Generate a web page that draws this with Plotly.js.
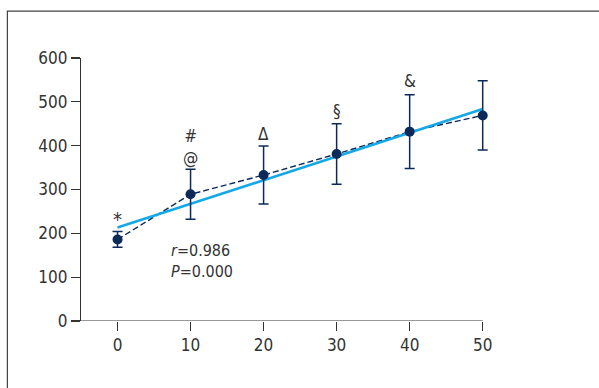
<!DOCTYPE html>
<html><head><meta charset="utf-8">
<script src="https://cdn.plot.ly/plotly-3.0.1.min.js"></script>
<style>body{margin:0;background:#fff}#plot{width:599px;height:388px}</style>
</head><body><div id="plot"></div>
<script>
const xVals = [0, 10, 20, 30, 40, 50];
const meanVals = [186, 289, 333, 381, 432, 469];
const errVals = [18, 57, 66, 69, 84, 79];
const markLabels = ["*", "#<br>@", "Δ", "§", "&", ""];
const markLabelY = [232, 397, 427, 480, 548, 0];
const statsText = "<i>r</i>=0.986<br><i>P</i>=0.000";

// linear regression of the means
const n = xVals.length;
const mx = xVals.reduce((a,b)=>a+b,0)/n;
const my = meanVals.reduce((a,b)=>a+b,0)/n;
let sxy=0, sxx=0;
for (let i=0;i<n;i++){ sxy+=(xVals[i]-mx)*(meanVals[i]-my); sxx+=(xVals[i]-mx)**2; }
const slope = sxy/sxx, icpt = my - slope*mx;
const fitX = [xVals[0], xVals[n-1]];
const fitY = fitX.map(v=>icpt+slope*v);

const navy = '#0b2a5a';
const FONT = '"DejaVu Sans Condensed", "Liberation Sans Narrow", sans-serif';

const traces = [
  {x: xVals, y: meanVals, mode:'lines', line:{color:navy, width:1.4, dash:'6px,3px'}, hoverinfo:'skip', cliponaxis:false},
  {x: fitX, y: fitY, mode:'lines', line:{color:'#14a8e6', width:2.6}, cliponaxis:false},
  {x: xVals, y: meanVals, mode:'markers', marker:{color:navy, size:10},
   error_y:{type:'data', array: errVals, visible:true, color:navy, thickness:1.5, width:5}, cliponaxis:false}
];

const annotations = [];
for (let i=0;i<n;i++){
  if (!markLabels[i]) continue;
  annotations.push({x:xVals[i], y:markLabelY[i], xref:'x', yref:'y', text:markLabels[i], showarrow:false,
    font:{family:FONT, size: i===0 ? 20 : 17, color:'#333'}, yanchor:'middle'});
}
annotations.push({x:7, y:137, xref:'x', yref:'y', text:statsText, showarrow:false, xanchor:'left', align:'left',
  font:{family:FONT, size:16, color:'#333'}});

const layout = {
  width:599, height:388,
  margin:{l:81, r:109, t:58, b:67},
  paper_bgcolor:'#fff', plot_bgcolor:'#fff',
  showlegend:false,
  font:{family:FONT, size:17, color:'#333'},
  xaxis:{range:[-5,51], tickvals:xVals, showline:false,
    ticks:'outside', ticklen:9, tickwidth:1.2, tickcolor:'#333', showgrid:false, zeroline:false, fixedrange:true},
  yaxis:{range:[0,600], tickvals:[0,100,200,300,400,500,600], showline:true, linecolor:'#333', linewidth:1.2,
    ticks:'outside', ticklen:9, tickwidth:1.2, tickcolor:'#333', showgrid:false, zeroline:false, fixedrange:true},
  annotations: annotations,
  shapes:[
    {type:'line', xref:'x', yref:'y', x0:-5, x1:xVals[n-1], y0:0, y1:0, line:{color:'#333', width:1.2}, layer:'above'},
    {type:'rect', xref:'paper', yref:'paper', x0:-0.18, x1:1.6, y0:-0.6, y1:1.178,
    line:{color:'#444', width:1.2}, fillcolor:'rgba(0,0,0,0)'}]
};
Plotly.newPlot('plot', traces, layout, {displayModeBar:false, staticPlot:true});
</script></body></html>
